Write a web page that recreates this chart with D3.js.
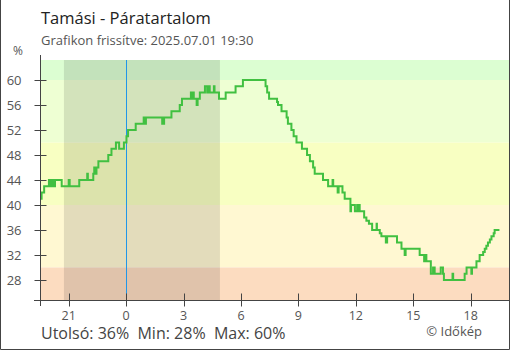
<!DOCTYPE html>
<html>
<head>
<meta charset="utf-8">
<script src="https://cdn.jsdelivr.net/npm/d3@7/dist/d3.min.js"></script>
<style>
  html, body { margin: 0; padding: 0; background: #fff; }
  svg { display: block; font-family: "Open Sans", "Noto Sans", sans-serif; }
</style>
</head>
<body>
<svg id="chart" width="510" height="350"></svg>
<script>
// Relative humidity readings (%) for Tamási, step changes over the last 24 hours
const readingTimes = [
  "2025-06-30 19:30", "2025-06-30 19:35", "2025-06-30 19:43", "2025-06-30 19:58",
  "2025-06-30 20:04", "2025-06-30 20:07", "2025-06-30 20:12", "2025-06-30 20:17",
  "2025-06-30 20:38", "2025-06-30 21:00", "2025-06-30 21:03", "2025-06-30 21:33",
  "2025-06-30 21:58", "2025-06-30 22:00", "2025-06-30 22:17", "2025-06-30 22:20",
  "2025-06-30 22:24", "2025-06-30 22:27", "2025-06-30 22:33", "2025-06-30 23:04",
  "2025-06-30 23:14", "2025-06-30 23:28", "2025-06-30 23:38", "2025-06-30 23:53",
  "2025-07-01 00:01", "2025-07-01 00:06", "2025-07-01 00:30", "2025-07-01 00:55",
  "2025-07-01 00:59", "2025-07-01 01:02", "2025-07-01 01:53", "2025-07-01 01:59",
  "2025-07-01 02:22", "2025-07-01 02:48", "2025-07-01 02:55", "2025-07-01 03:23",
  "2025-07-01 03:25", "2025-07-01 03:30", "2025-07-01 03:32", "2025-07-01 03:41",
  "2025-07-01 03:44", "2025-07-01 03:51", "2025-07-01 04:07", "2025-07-01 04:14",
  "2025-07-01 04:16", "2025-07-01 04:22", "2025-07-01 04:35", "2025-07-01 04:37",
  "2025-07-01 04:51", "2025-07-01 05:12", "2025-07-01 05:43", "2025-07-01 06:06",
  "2025-07-01 07:17", "2025-07-01 07:22", "2025-07-01 07:28", "2025-07-01 07:53",
  "2025-07-01 07:56", "2025-07-01 08:07", "2025-07-01 08:23", "2025-07-01 08:27",
  "2025-07-01 08:38", "2025-07-01 08:45", "2025-07-01 08:54", "2025-07-01 09:11",
  "2025-07-01 09:27", "2025-07-01 09:36", "2025-07-01 09:46", "2025-07-01 09:51",
  "2025-07-01 10:17", "2025-07-01 10:33", "2025-07-01 10:47", "2025-07-01 10:49",
  "2025-07-01 11:03", "2025-07-01 11:06", "2025-07-01 11:18", "2025-07-01 11:25",
  "2025-07-01 11:43", "2025-07-01 11:45", "2025-07-01 11:57", "2025-07-01 12:04",
  "2025-07-01 12:07", "2025-07-01 12:10", "2025-07-01 12:12", "2025-07-01 12:26",
  "2025-07-01 12:33", "2025-07-01 12:41", "2025-07-01 12:51", "2025-07-01 13:05",
  "2025-07-01 13:06", "2025-07-01 13:15", "2025-07-01 13:20", "2025-07-01 13:34",
  "2025-07-01 13:38", "2025-07-01 14:09", "2025-07-01 14:23", "2025-07-01 14:33",
  "2025-07-01 14:36", "2025-07-01 15:20", "2025-07-01 15:34", "2025-07-01 15:37",
  "2025-07-01 15:41", "2025-07-01 15:55", "2025-07-01 16:02", "2025-07-01 16:07",
  "2025-07-01 16:26", "2025-07-01 16:33", "2025-07-01 16:36", "2025-07-01 17:03",
  "2025-07-01 17:05", "2025-07-01 17:41", "2025-07-01 17:47", "2025-07-01 18:02",
  "2025-07-01 18:04", "2025-07-01 18:18", "2025-07-01 18:28", "2025-07-01 18:39",
  "2025-07-01 18:44", "2025-07-01 18:49", "2025-07-01 18:54", "2025-07-01 19:00",
  "2025-07-01 19:05", "2025-07-01 19:12", "2025-07-01 19:15", "2025-07-01 19:30"
];
const humidity = [
  41, 42, 43, 44,
  43, 44, 43, 44,
  43, 44, 43, 44,
  45, 44, 45, 46,
  45, 46, 47, 48,
  49, 50, 49, 50,
  51, 52, 53, 54,
  53, 54, 53, 54,
  55, 56, 57, 58,
  57, 58, 57, 56,
  57, 58, 59, 58,
  59, 58, 59, 58,
  57, 58, 59, 60,
  59, 58, 57, 56.5,
  56, 55, 54, 53,
  52, 51, 50, 49,
  48, 47, 46, 45,
  44, 43, 44, 43,
  42, 43, 42, 41,
  39, 40, 39, 40,
  39, 40, 39, 38,
  37.5, 37, 36, 37,
  36, 35.5, 35, 34,
  35, 34, 33, 32,
  33, 32, 31, 32,
  31, 29, 30, 29,
  30, 29, 28, 29,
  28, 29, 30, 29,
  30, 31, 32, 32.5,
  33, 33.5, 34, 34.5,
  35, 35.5, 36, 36
];

// Humidity comfort bands: [from %, to %, fill]
const bandFrom = [63.2, 60, 50, 40, 30];
const bandTo = [60, 50, 40, 30, 24.8];
const bandColors = ["#dcfed2", "#eeffd3", "#f8ffc2", "#fff8d2", "#fcdcc0"];

// Night (sunset to sunrise)
const nightStart = "2025-06-30 20:45";
const nightEnd = "2025-07-01 04:54";
const midnight = "2025-07-01 00:00";

const yTickValues = [28, 32, 36, 40, 44, 48, 52, 56, 60];
const domainStart = "2025-06-30 19:30";
const domainEnd = "2025-07-01 20:00";
const yDomain = [24.8, 63.2];

const title = "Tamási - Páratartalom";
const subtitle = "Grafikon frissítve: 2025.07.01 19:30";
const credit = "© Időkép";

(function draw() {
  const parse = d3.timeParse("%Y-%m-%d %H:%M");
  const data = readingTimes.map((t, i) => ({ t: parse(t), v: humidity[i] }));

  const svg = d3.select("#chart");
  const W = 510, H = 350;
  const pLeft = 40, pRight = 509, pTop = 60, pBottom = 300;

  const x = d3.scaleTime().domain([parse(domainStart), parse(domainEnd)]).range([pLeft, pRight]);
  const y = d3.scaleLinear().domain(yDomain).range([pBottom, pTop]);

  // background bands
  svg.append("g").selectAll("rect").data(bandFrom).join("rect")
    .attr("x", pLeft)
    .attr("width", pRight - pLeft)
    .attr("y", (d, i) => y(bandFrom[i]))
    .attr("height", (d, i) => y(bandTo[i]) - y(bandFrom[i]))
    .attr("fill", (d, i) => bandColors[i]);

  // night shading
  svg.append("rect")
    .attr("x", x(parse(nightStart)))
    .attr("width", x(parse(nightEnd)) - x(parse(nightStart)))
    .attr("y", pTop)
    .attr("height", pBottom - pTop)
    .attr("fill", "rgba(0,0,0,0.11)");

  // midnight marker
  const mx = Math.round(x(parse(midnight))) + 0.5;
  svg.append("line")
    .attr("x1", mx).attr("x2", mx)
    .attr("y1", pTop).attr("y2", pBottom)
    .attr("stroke", "#2196e8").attr("stroke-width", 1);

  // humidity line
  const line = d3.line()
    .x(d => x(d.t))
    .y(d => y(d.v))
    .curve(d3.curveStepAfter);

  svg.append("path")
    .datum(data)
    .attr("d", line)
    .attr("fill", "none")
    .attr("stroke", "#41c041")
    .attr("stroke-width", 2);

  // y axis
  const yAxis = svg.append("g").attr("transform", `translate(${pLeft + 0.5},0)`);
  yAxis.append("line").attr("x1", 0).attr("x2", 0).attr("y1", 55).attr("y2", 306)
    .attr("stroke", "#444");
  yAxis.selectAll("line.tick").data(yTickValues).join("line").attr("class", "tick")
    .attr("x1", -6).attr("x2", 6)
    .attr("y1", d => Math.round(y(d)) + 0.5).attr("y2", d => Math.round(y(d)) + 0.5)
    .attr("stroke", "#444");
  yAxis.selectAll("text").data(yTickValues).join("text")
    .attr("x", -19).attr("y", d => y(d) + 4.5)
    .attr("text-anchor", "end")
    .attr("font-size", 13)
    .attr("fill", "#555")
    .text(d => d);

  svg.append("text").attr("x", 13).attr("y", 55)
    .attr("font-size", 12).attr("fill", "#555").text("%");

  // x axis
  const xTicks = x.ticks(d3.timeHour.every(3));
  const xAxis = svg.append("g").attr("transform", `translate(0,${pBottom + 0.5})`);
  xAxis.append("line").attr("x1", 34).attr("x2", pRight).attr("y1", 0).attr("y2", 0)
    .attr("stroke", "#444");
  xAxis.selectAll("line.tick").data(xTicks).join("line").attr("class", "tick")
    .attr("x1", d => Math.round(x(d)) + 0.5).attr("x2", d => Math.round(x(d)) + 0.5)
    .attr("y1", -7).attr("y2", 6)
    .attr("stroke", "#444");
  xAxis.selectAll("text").data(xTicks).join("text")
    .attr("x", d => x(d)).attr("y", 19)
    .attr("text-anchor", "middle")
    .attr("font-size", 12.5)
    .attr("fill", "#555")
    .text(d3.timeFormat("%-H"));

  // titles
  svg.append("text").attr("x", 41).attr("y", 24)
    .attr("font-size", 16.5).attr("fill", "#222").text(title);
  svg.append("text").attr("x", 41).attr("y", 45)
    .attr("font-size", 13).attr("fill", "#555").text(subtitle);

  // summary
  const last = humidity[humidity.length - 1];
  const minV = d3.min(humidity), maxV = d3.max(humidity);
  svg.append("text").attr("x", 41).attr("y", 339)
    .attr("font-size", 16).attr("fill", "#444")
    .attr("xml:space", "preserve")
    .text(`Utolsó: ${last}%  Min: ${minV}%  Max: ${maxV}%`);
  svg.append("text").attr("x", 482).attr("y", 336)
    .attr("text-anchor", "end")
    .attr("font-size", 13).attr("fill", "#555").text(credit);

  // frame
  svg.append("path")
    .attr("d", `M0.5,0 V${H - 0.5} H${W - 0.5} V0`)
    .attr("fill", "none").attr("stroke", "#444").attr("stroke-width", 1);
})();
</script>
</body>
</html>
